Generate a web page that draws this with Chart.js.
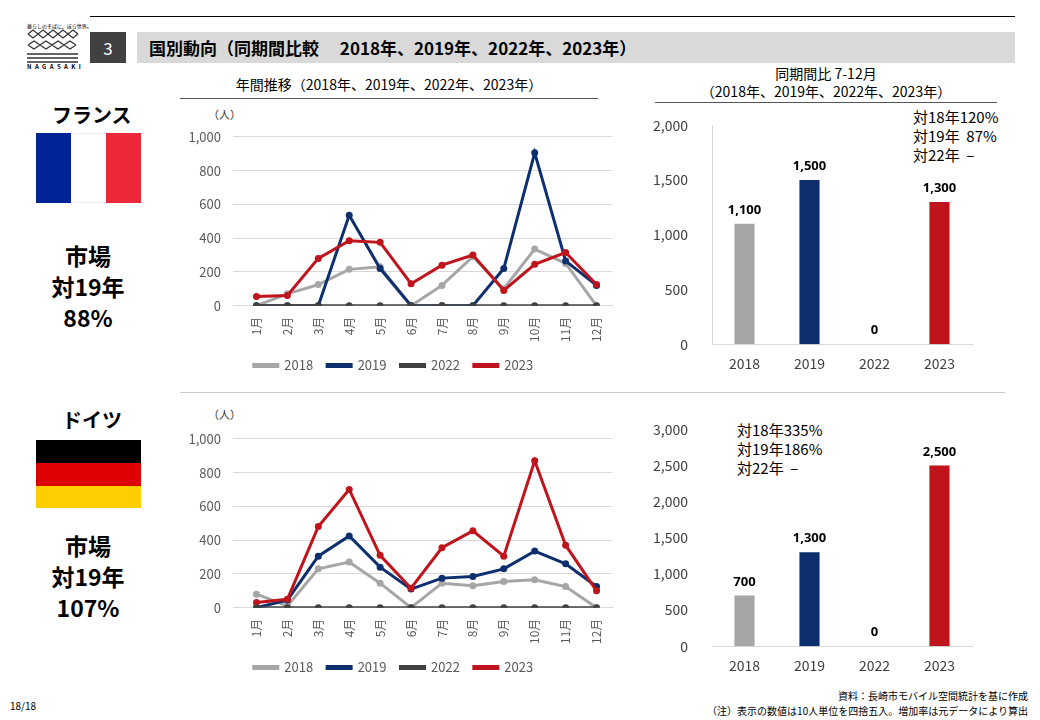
<!DOCTYPE html>
<html><head><meta charset="utf-8">
<script src="https://cdn.jsdelivr.net/npm/chart.js@4"></script>
<style>
body{margin:0;width:1040px;height:720px;background:#fff;font-family:"Noto Sans CJK JP","Noto Sans",sans-serif;position:relative;overflow:hidden;color:#000}
.a{position:absolute}
canvas{position:absolute}
.big{font-weight:bold;font-size:23px;text-align:center;line-height:31px;width:150px}
</style></head><body>
<div class="a" style="left:90px;top:16px;width:925px;border-top:1.5px solid #000"></div>
<div class="a" style="left:27px;top:22px;font-size:5px;">暮らしのそばに、ほら世界。</div>
<svg class="a" style="left:25px;top:28px" width="55" height="40">
<g fill="none" stroke="#333" stroke-width="1.3">
<path d="M3 6 L8 2 L13 6 L18 2 L23 6 L28 2 L33 6 L38 2 L43 6 L48 2 L53 6 M3 6 L8 10 L13 6 L18 10 L23 6 L28 10 L33 6 L38 10 L43 6 L48 10 L53 6"/>
<path d="M3 17 L9 13 L15 17 L21 13 L27 17 L33 13 L39 17 L45 13 L51 17 M3 17 L9 21 L15 17 L21 21 L27 17 L33 21 L39 17 L45 21 L51 17"/>
<path d="M2 26 H53 M2 30 H53 M2 34 H53"/></g></svg>
<div class="a" style="left:27px;top:62px;font-size:6px;font-weight:bold;letter-spacing:3.4px">NAGASAKI</div>
<div class="a" style="left:90px;top:32px;width:36px;height:31px;background:#404040;color:#fff;font-size:17px;text-align:center;line-height:31px">3</div>
<div class="a" style="left:137px;top:32px;width:878px;height:31px;background:#d9d9d9;font-size:17px;font-weight:bold;line-height:31px;padding-left:12px;box-sizing:border-box">国別動向（同期間比較　 2018年、2019年、2022年、2023年）</div>

<div class="a" style="left:180px;top:74px;width:418px;text-align:center;font-size:14px">年間推移（2018年、2019年、2022年、2023年）</div>
<div class="a" style="left:180px;top:98px;width:418px;border-top:1px solid #555"></div>
<div class="a" style="left:655px;top:64px;width:342px;text-align:center;font-size:14px;line-height:18px">同期間比 7-12月<br>（2018年、2019年、2022年、2023年）</div>
<div class="a" style="left:655px;top:102px;width:342px;border-top:1px solid #555"></div>
<div class="a" style="left:180px;top:392px;width:825px;border-top:1px solid #ccc"></div>

<div class="a" style="left:52px;top:100px;font-size:20px;font-weight:bold">フランス</div>
<div class="a" style="left:36px;top:133px;width:35px;height:70px;background:#002395"></div>
<div class="a" style="left:71px;top:133px;width:35px;height:70px;background:#fff;box-sizing:border-box;border-top:1px solid #eee;border-bottom:1px solid #eee"></div>
<div class="a" style="left:106px;top:133px;width:35px;height:70px;background:#ed2939"></div>
<div class="a big" style="left:13px;top:240px">市場<br>対19年<br>88%</div>

<div class="a" style="left:62px;top:405px;font-size:20px;font-weight:bold">ドイツ</div>
<div class="a" style="left:36px;top:440px;width:105px;height:23px;background:#000"></div>
<div class="a" style="left:36px;top:463px;width:105px;height:23px;background:#dd0000"></div>
<div class="a" style="left:36px;top:486px;width:105px;height:22px;background:#ffce00"></div>
<div class="a big" style="left:13px;top:530px">市場<br>対19年<br>107%</div>

<div class="a" style="left:913px;top:107px;font-size:15px;line-height:19px">対18年120%<br>対19年&nbsp; 87%<br>対22年&nbsp; –</div>
<div class="a" style="left:737px;top:420px;font-size:15px;line-height:19px">対18年335%<br>対19年186%<br>対22年&nbsp; –</div>
<div class="a" style="left:208px;top:106px;font-size:11px;color:#333">（人）</div>
<div class="a" style="left:208px;top:406px;font-size:11px;color:#333">（人）</div>

<div class="a" style="left:10px;top:698px;font-size:10px">18/18</div>
<div class="a" style="right:12px;top:688px;font-size:10px;text-align:right;line-height:15px">資料：長崎市モバイル空間統計を基に作成<br>（注）表示の数値は10人単位を四捨五入。増加率は元データにより算出</div>

<canvas id="l1" class="a" style="left:175px;top:117px" width="445" height="265"></canvas>
<canvas id="l2" class="a" style="left:175px;top:419px" width="445" height="265"></canvas>
<canvas id="b1" class="a" style="left:645px;top:101px" width="335" height="274"></canvas>
<canvas id="b2" class="a" style="left:645px;top:405px" width="335" height="272"></canvas>
<script>
const months=["1月","2月","3月","4月","5月","6月","7月","8月","9月","10月","11月","12月"];
const years=["2018","2019","2022","2023"];
const fr2018=[0,70,125,215,230,0,120,290,100,335,250,0];
const fr2019=[0,0,0,535,220,0,0,0,220,905,265,120];
const fr2022=[0,0,0,0,0,0,0,0,0,0,0,0];
const fr2023=[55,60,280,385,375,130,240,300,90,245,315,125];
const de2018=[80,10,230,270,145,0,145,130,155,165,125,0];
const de2019=[0,45,305,425,240,110,175,185,230,335,260,125];
const de2022=[0,0,0,0,0,0,0,0,0,0,0,0];
const de2023=[30,50,480,700,310,115,355,455,305,870,370,100];
const frPeriod=[1100,1500,0,1300];
const dePeriod=[700,1300,0,2500];
const colors=["#a6a6a6","#0d2f6e","#404040","#c0141c"];
Chart.defaults.font.family='"Noto Sans CJK JP","Noto Sans",sans-serif';
Chart.defaults.color="#595959";
Chart.defaults.animation=false;
function lineChart(id,series){
  new Chart(document.getElementById(id),{type:"line",
    data:{labels:months,datasets:series.map((d,i)=>({label:years[i],data:d,borderColor:colors[i],backgroundColor:colors[i],borderWidth:3,pointRadius:3.5,pointBorderWidth:0,order:i==2?0:3-i}))},
    options:{responsive:false,layout:{padding:{top:8,right:8}},
      plugins:{legend:{position:"bottom",labels:{boxWidth:24,boxHeight:2,font:{size:13},padding:14,sort:(a,b)=>a.datasetIndex-b.datasetIndex}},tooltip:{enabled:false}},
      scales:{x:{offset:true,grid:{display:false},border:{color:"#d9d9d9"},ticks:{maxRotation:90,minRotation:90,font:{size:12}}},
        y:{min:0,max:1000,afterFit:s=>{s.width=66;},ticks:{stepSize:200,font:{size:13},padding:12,callback:v=>v.toLocaleString("en-US")},grid:{color:"#d9d9d9"},border:{display:false}}}}});
}
const valLabels={id:"vl",afterDatasetsDraw(c){const ctx=c.ctx;const m=c.getDatasetMeta(0);ctx.save();ctx.font="bold 13px 'Noto Sans'";ctx.fillStyle="#000";ctx.textAlign="center";
  m.data.forEach((b,i)=>{ctx.fillText(c.data.datasets[0].data[i].toLocaleString("en-US"),b.x,b.y-10);});ctx.restore();}};
function barChart(id,data,max,step,axis){
  new Chart(document.getElementById(id),{type:"bar",
    data:{labels:years,datasets:[{data:data,backgroundColor:colors,barPercentage:0.31,categoryPercentage:1}]},
    options:{responsive:false,layout:{padding:{top:10,right:8}},plugins:{legend:{display:false},tooltip:{enabled:false}},
      scales:{x:{grid:{display:false},border:{color:"#d9d9d9"},ticks:{font:{size:14},color:"#404040"}},
        y:{min:0,max:max,afterFit:s=>{s.width=67;},ticks:{stepSize:step,font:{size:14},color:"#404040",padding:16,callback:v=>v.toLocaleString("en-US")},grid:{display:false},border:{display:axis,color:"#d9d9d9"}}}},
    plugins:[valLabels]});
}
lineChart("l1",[fr2018,fr2019,fr2022,fr2023]);
lineChart("l2",[de2018,de2019,de2022,de2023]);
barChart("b1",frPeriod,2000,500,true);
barChart("b2",dePeriod,3000,500,false);
</script></body></html>
